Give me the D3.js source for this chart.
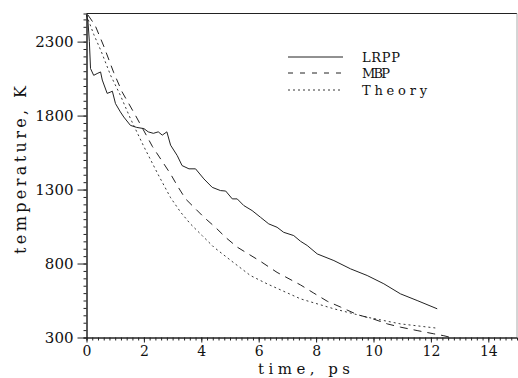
<!DOCTYPE html>
<html lang="en">
<head>
<meta charset="utf-8">
<title>temperature vs time</title>
<script src="https://cdn.jsdelivr.net/npm/d3@7/dist/d3.min.js"></script>
<style>
body { margin: 0; background: #fff; }
text { font-family: "DejaVu Serif", serif; fill: #111; }
</style>
</head>
<body>
<svg id="chart"></svg>
<script>
// values
var timeLRPP = [0, 0.05, 0.1, 0.14, 0.25, 0.37, 0.49, 0.55, 0.72, 0.85, 0.9, 1.01, 1.18, 1.3, 1.53, 1.75, 2.0, 2.15, 2.33, 2.5, 2.64, 2.8, 2.93,
  3.16, 3.33, 3.57, 3.8, 4.09, 4.38, 4.67, 4.85, 5.08, 5.25, 5.48, 5.77, 6.06, 6.35, 6.64, 6.87, 7.22, 7.46, 7.69, 8.04, 8.62, 9.2, 9.78,
  10.36, 10.94, 11.52, 12.22];
var tempLRPP = [2480, 2440, 2300, 2118, 2072, 2084, 2095, 2040, 1950, 1960, 1965, 1881, 1825, 1790, 1734, 1720, 1712, 1690, 1680, 1690, 1668, 1690, 1600,
  1530, 1462, 1440, 1440, 1372, 1315, 1293, 1290, 1237, 1237, 1192, 1158, 1113, 1068, 1045, 1011, 989, 950, 922, 865, 820, 764, 719,
  663, 595, 550, 494];

var timeMBP = [0.05, 0.3, 0.6, 0.95, 1.24, 1.71, 2.3, 2.93, 3.16, 3.45, 3.74, 4.09, 4.49, 4.84, 5.25, 6.06, 6.64, 7.46, 7.92, 8.39, 8.85,
  9.43, 10.01, 10.48, 10.94, 11.52, 12.1, 12.45, 12.7];
var tempMBP = [2480, 2410, 2270, 2090, 1960, 1800, 1590, 1405, 1327, 1237, 1181, 1113, 1045, 978, 911, 815, 740, 655, 600, 545, 506,
  455, 424, 392, 370, 347, 325, 312, 300];

var timeTheory = [0, 0.25, 0.5, 0.84, 1.18, 1.53, 2.0, 2.5, 2.93, 3.28, 3.62, 4.03, 4.44, 5.0, 5.71, 6.29, 7.46, 8.62, 9.78, 10.94, 12.22];
var tempTheory = [2480, 2350, 2240, 2072, 1937, 1780, 1590, 1400, 1245, 1147, 1068, 989, 910, 825, 719, 663, 561, 494, 437, 392, 363];

var seriesNames = ["LRPP", "MBP", "Theory"];
var xTicks = [0, 2, 4, 6, 8, 10, 12, 14];
var yTicks = [300, 800, 1300, 1800, 2300];

var width = 518, height = 378;
var svg = d3.select("#chart").attr("width", width).attr("height", height);

var x = d3.scaleLinear().domain([0, 15]).range([86.5, 517]);
var y = d3.scaleLinear().domain([300, 2490]).range([337.5, 13.5]);

// frame: top and right edge
svg.append("line").attr("x1", x(0)).attr("x2", x(15)).attr("y1", y(2490)).attr("y2", y(2490))
  .attr("stroke", "#222").attr("stroke-width", 1);
svg.append("line").attr("x1", x(15)).attr("x2", x(15)).attr("y1", y(2490)).attr("y2", y(300))
  .attr("stroke", "#aaa").attr("stroke-width", 1);

// minor ticks
svg.append("g").attr("transform", "translate(0," + y(300) + ")")
  .call(d3.axisBottom(x).tickValues(d3.range(0, 75).map(function(i) { return i * 0.2; })).tickSize(3).tickFormat(""));
svg.append("g").attr("transform", "translate(" + x(0) + ",0)")
  .call(d3.axisLeft(y).tickValues(d3.range(0, 44).map(function(i) { return 300 + i * 50; })).tickSize(3).tickFormat(""));

// major ticks + labels
var xAxis = svg.append("g").attr("transform", "translate(0," + y(300) + ")")
  .call(d3.axisBottom(x).tickValues(xTicks).tickSize(5).tickPadding(4).tickSizeOuter(0).tickFormat(d3.format("d")));
var yAxis = svg.append("g").attr("transform", "translate(" + x(0) + ",0)")
  .call(d3.axisLeft(y).tickValues(yTicks).tickSize(9).tickPadding(4).tickSizeOuter(0).tickFormat(d3.format("d")));

svg.selectAll(".domain").attr("stroke", "#222");
svg.selectAll(".tick line").attr("stroke", "#222");
[xAxis, yAxis].forEach(function(a) {
  a.attr("font-family", "DejaVu Serif").attr("font-size", 15);
  a.selectAll("text").style("font-size", "15px").style("font-family", "DejaVu Serif").attr("fill", "#111");
});
xAxis.selectAll("text").style("font-size", "14px");

// axis titles
svg.append("text")
  .attr("transform", "translate(26,170) rotate(-90)")
  .attr("text-anchor", "middle")
  .attr("textLength", 168).attr("lengthAdjust", "spacing")
  .style("font-size", "16px")
  .text("temperature, K");

svg.append("text")
  .attr("x", 258).attr("y", 374)
  .attr("textLength", 92).attr("lengthAdjust", "spacing")
  .style("font-size", "15px")
  .text("time, ps");

var line = d3.line().x(function(d) { return x(d[0]); }).y(function(d) { return y(d[1]); });

var series = [
  { t: timeLRPP, v: tempLRPP, dash: null, w: 1 },
  { t: timeMBP, v: tempMBP, dash: "8,6", w: 1 },
  { t: timeTheory, v: tempTheory, dash: "2,3", w: 0.9 }
];

series.forEach(function(s) {
  svg.append("path")
    .datum(d3.zip(s.t, s.v))
    .attr("d", line)
    .attr("fill", "none")
    .attr("stroke", "#222")
    .attr("stroke-width", s.w)
    .attr("stroke-dasharray", s.dash);
});

// legend
var legendY = [57, 73, 90];
var legendLen = [38, 28, 65];
seriesNames.forEach(function(name, i) {
  svg.append("line")
    .attr("x1", 288).attr("x2", 343)
    .attr("y1", legendY[i]).attr("y2", legendY[i])
    .attr("stroke", "#222")
    .attr("stroke-width", series[i].w)
    .attr("stroke-dasharray", i === 1 ? "5,7" : series[i].dash);
  svg.append("text")
    .attr("x", 362).attr("y", legendY[i])
    .attr("dy", "0.35em")
    .attr("textLength", legendLen[i]).attr("lengthAdjust", "spacing")
    .style("font-size", "13px")
    .text(name);
});
</script>
</body>
</html>
